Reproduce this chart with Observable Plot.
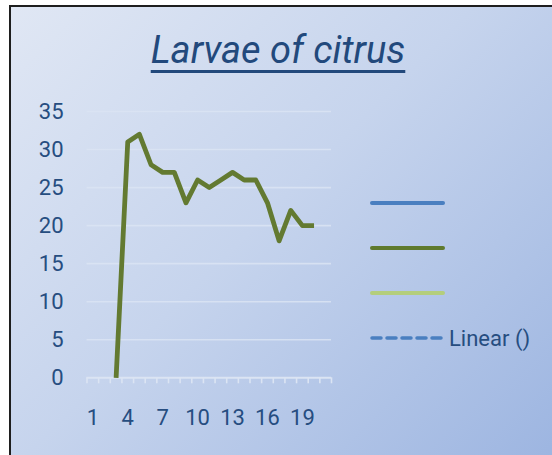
<!DOCTYPE html>
<html><head><meta charset="utf-8">
<script src="https://cdn.jsdelivr.net/npm/d3@7"></script>
<script src="https://cdn.jsdelivr.net/npm/@observablehq/plot@0.6"></script>
<style>
html,body{margin:0;padding:0;background:#fff;}
#wrap{position:relative;width:552px;height:455px;overflow:hidden;font-family:Roboto,sans-serif;}
#bg{position:absolute;left:8.5px;top:5px;width:560px;height:470px;border-left:2.5px solid #1e1e1e;border-top:2.5px solid #1e1e1e;
  background:linear-gradient(135deg,#e0e7f4 0%,#c6d4ed 45%,#9ab3e0 100%);}
#title{position:absolute;left:0;width:556px;top:31px;text-align:center;font-family:Roboto,sans-serif;font-style:italic;font-size:38px;line-height:38px;color:#22497c;
  text-decoration:underline;text-decoration-thickness:2.5px;text-underline-offset:7px;}
#chart{position:absolute;left:0;top:0;}
#legend{position:absolute;left:0;top:0;}
</style></head>
<body>
<div id="wrap">
  <div id="bg"></div>
  <div id="title"></div>
  <div id="chart"></div>
  <svg id="legend" width="552" height="455"></svg>
</div>
<script>
const titleText = "Larvae of citrus";
const categories = [1,2,3,4,5,6,7,8,9,10,11,12,13,14,15,16,17,18,19,20,21];
const larvae =     [null,null,0,31,32,28,27,27,23,26,25,26,27,26,26,23,18,22,20,20,null];
const yTicks = [0,5,10,15,20,25,30,35];
const xTickLabels = [1,4,7,10,13,16,19];
const legendLabels = ["", "", "", "Linear ()"];
const legendColors = ["#4a7fc0", "#5f7a2e", "#b4ce7c", "#4a7fc0"];
const legendDashed = [false, false, false, true];

document.getElementById("title").textContent = titleText;

const data = categories.map((c, i) => ({x: c, y: larvae[i]}));
const boundaries = categories.map(c => c - 0.5).concat([categories[categories.length - 1] + 0.5]);
const textColor = "#264d80";
const lightLine = "#dbe4f3";

const chart = Plot.plot({
  width: 552,
  height: 455,
  marginLeft: 86.5,
  marginRight: 221,
  marginTop: 111,
  marginBottom: 77.7,
  style: {background: "transparent", fontFamily: "Roboto, sans-serif", color: textColor},
  x: {type: "linear", domain: [boundaries[0], boundaries[boundaries.length - 1]]},
  y: {domain: [0, 35]},
  marks: [
    Plot.ruleY(yTicks.filter(t => t > 0), {stroke: lightLine, strokeWidth: 1.6, strokeOpacity: 0.85}),
    Plot.axisY({ticks: yTicks, tickSize: 0, tickPadding: 23.4, fontSize: 22, fill: textColor, label: null}),
    Plot.axisX({ticks: boundaries, tickSize: 6, tickFormat: () => "", stroke: lightLine, strokeWidth: 1.6, label: null}),
    Plot.axisX({ticks: xTickLabels, tickSize: 0, tickPadding: 32, fontSize: 22, fill: textColor, label: null, tickFormat: d => String(d)}),
    Plot.ruleY([0], {stroke: lightLine, strokeWidth: 2}),
    Plot.line(data, {x: "x", y: "y", stroke: "#637a31", strokeWidth: 4.8, strokeLinejoin: "round", strokeLinecap: "butt"})
  ]
});
document.getElementById("chart").appendChild(chart);

// legend
const lg = d3.select("#legend");
const lx0 = 372, lx1 = 443, ly0 = 203, lstep = 45;
legendLabels.forEach((lab, i) => {
  const y = ly0 + i * lstep;
  lg.append("line").attr("x1", lx0).attr("x2", lx1).attr("y1", y).attr("y2", y)
    .attr("stroke", legendColors[i]).attr("stroke-width", legendDashed[i] ? 3.5 : 4)
    .attr("stroke-linecap", "round")
    .attr("stroke-dasharray", legendDashed[i] ? "9,6" : null);
  if (lab) {
    lg.append("text").attr("x", 449).attr("y", y + 8).attr("font-size", 22)
      .attr("font-family", "Roboto, sans-serif").attr("fill", textColor).text(lab);
  }
});
</script>
</body></html>
